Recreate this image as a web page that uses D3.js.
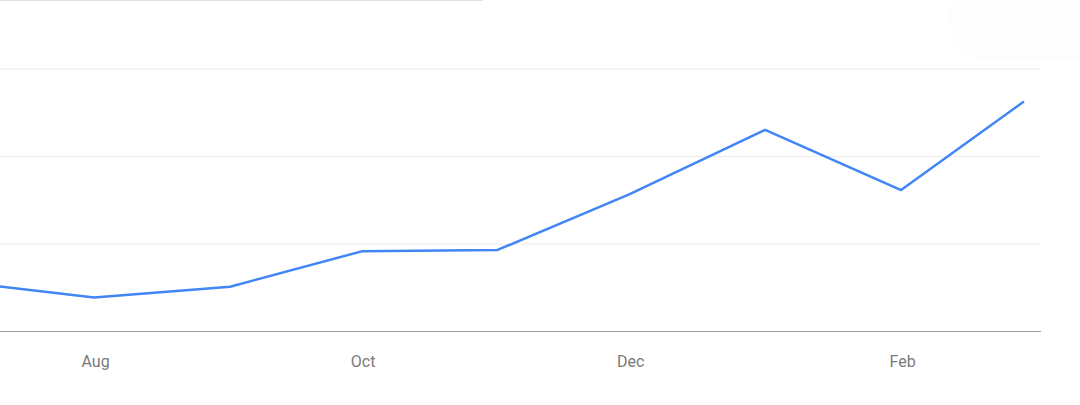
<!DOCTYPE html>
<html>
<head>
<meta charset="utf-8">
<script src="https://cdn.jsdelivr.net/npm/d3@7"></script>
<style>
  html, body { margin: 0; padding: 0; background: #fff; }
  svg { display: block; }
</style>
</head>
<body>
<svg id="chart" width="1080" height="405"></svg>
<script>
// monthly values (first month sits just off the left edge)
const months = ["2022-07-01", "2022-08-01", "2022-09-01", "2022-10-01", "2022-11-01",
                "2022-12-01", "2023-01-01", "2023-02-01", "2023-03-01"];
const values = [14.3, 9.7, 12.8, 22.9, 23.3, 39.2, 57.6, 40.4, 65.7];
const gridValues = [0, 25, 50, 75];
const tickMonths = ["2022-08-01", "2022-10-01", "2022-12-01", "2023-02-01"];

const svg = d3.select("#chart");
const parse = d3.utcParse("%Y-%m-%d");

const x = d3.scaleUtc()
  .domain([parse(months[0]), parse(months[months.length - 1])])
  .range([-41.9, 1023.9]);
const y = d3.scaleLinear().domain([0, 75]).range([331.5, 69]);

// thin strip at the top left, left over from the card above
svg.append("line")
  .attr("x1", 0).attr("x2", 483).attr("y1", 0.5).attr("y2", 0.5)
  .attr("stroke", "#e0e0e0").attr("stroke-width", 1);

// faded control in the top right corner
svg.append("rect")
  .attr("x", 950).attr("y", -30).attr("width", 160).attr("height", 90)
  .attr("rx", 40)
  .attr("fill", "#fdfdfd");

// gridlines
svg.append("g")
  .selectAll("line")
  .data(gridValues)
  .join("line")
  .attr("x1", 0).attr("x2", 1041)
  .attr("y1", d => y(d)).attr("y2", d => y(d))
  .attr("stroke", d => d === 0 ? "#9e9e9e" : "#ececec")
  .attr("stroke-width", d => d === 0 ? 1 : 1.2);

// month labels
svg.append("g")
  .attr("transform", "translate(1,367)")
  .call(d3.axisBottom(x)
    .tickValues(tickMonths.map(parse))
    .tickFormat(d3.utcFormat("%b"))
    .tickSize(0)
    .tickPadding(0))
  .call(g => g.select(".domain").remove())
  .selectAll("text")
  .attr("dy", 0)
  .attr("fill", "#7a7a7a")
  .style("font-family", "Roboto, Arial, sans-serif")
  .style("font-size", "16px");

const line = d3.line()
  .x((d, i) => x(parse(months[i])))
  .y(d => y(d));

svg.append("path")
  .datum(values)
  .attr("fill", "none")
  .attr("stroke", "#4285f4")
  .attr("stroke-width", 2.5)
  .attr("stroke-linejoin", "round")
  .attr("d", line);
</script>
</body>
</html>
